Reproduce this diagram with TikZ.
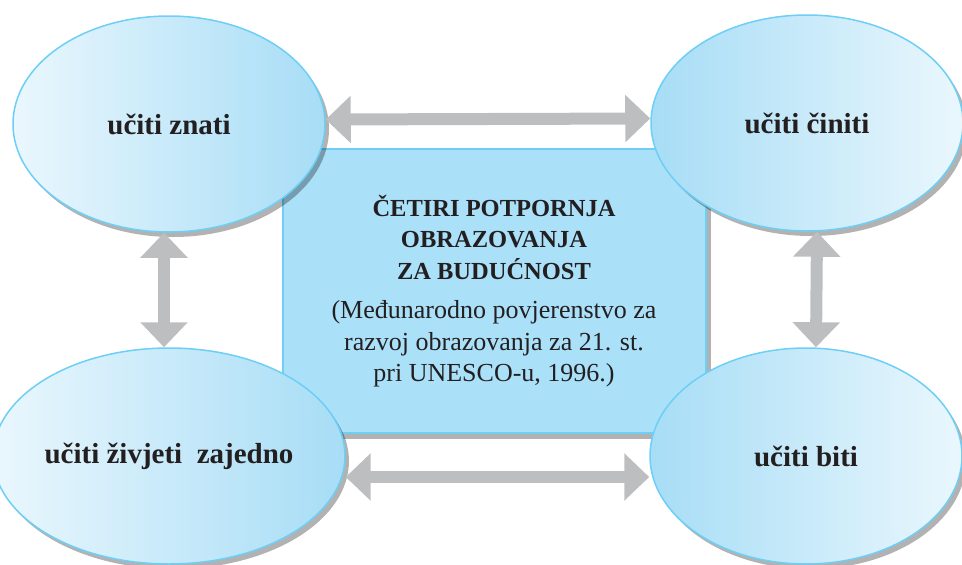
\documentclass[tikz,border=0pt]{standalone}
\usepackage{fontspec}
\setmainfont{Liberation Serif}
\usetikzlibrary{shapes.geometric}
\usetikzlibrary{shadows}
\usetikzlibrary{arrows.meta}
\definecolor{ringblue}{HTML}{6DCFF6}
\definecolor{paleblue}{HTML}{EAF7FD}
\definecolor{skyblue}{HTML}{A7DDF6}
\definecolor{boxblue}{HTML}{ABE0F9}
\definecolor{arrowgray}{HTML}{BCBEC0}
\definecolor{inkblack}{HTML}{231F20}
\newcommand{\notefont}{\fontsize{26}{30.5}\selectfont}
\tikzset{
  pillar/.style={
    ellipse, draw=ringblue, line width=1.5pt,
    minimum width=312pt, minimum height=216pt, inner sep=0pt,
    text=inkblack, font=\fontsize{29}{34}\selectfont\bfseries,
    drop shadow={shadow xshift=4pt, shadow yshift=-5pt, fill=black, opacity=0.3},
  },
  pillar left/.style={pillar, left color=paleblue, right color=skyblue},
  pillar right/.style={pillar, left color=skyblue, right color=paleblue},
  centre box/.style={
    rectangle, draw=ringblue, line width=2pt, fill=boxblue,
    minimum width=423pt, minimum height=284pt, inner sep=0pt,
    text=inkblack, align=center, font=\fontsize{24.5}{31.5}\selectfont,
    drop shadow={shadow xshift=5pt, shadow yshift=-6pt, fill=black, opacity=0.3},
  },
  both way/.style={
    draw=arrowgray, line width=12pt,
    {Triangle[width=46pt,length=25pt]}-{Triangle[width=46pt,length=25pt]},
  },
}
\begin{document}
\begin{tikzpicture}[x=1pt, y=-1pt]
  \useasboundingbox (0,0) rectangle (962,565);

  % Define nodes
  \node[centre box] (pillars) at (494,291) {%
    \textbf{ČETIRI POTPORNJA}\\
    \textbf{OBRAZOVANJA}\\
    \textbf{ZA BUDUĆNOST}\\[8pt]
    {\notefont (Međunarodno povjerenstvo za}\\
    {\notefont razvoj obrazovanja za 21. st.}\\
    {\notefont pri UNESCO-u, 1996.)}};

  \node[pillar left] (know) at (169,124) {učiti znati};
  \node[pillar right] (do) at (807,123) {učiti činiti};
  \node[pillar left] (together) at (169,456) {učiti živjeti~ zajedno};
  \node[pillar right] (be) at (806,456) {učiti biti};

  % Connect nodes
  \draw[both way] ([yshift=4.5pt]know.east) -- ([yshift=4.5pt]do.west);
  \draw[both way] ([yshift=-21pt]together.east) -- ([yshift=-21pt]be.west);
  \draw[both way] ([xshift=-5pt]know.south) -- ([xshift=-5pt]together.north);
  \draw[both way] ([xshift=10pt]do.south) -- ([xshift=10pt]be.north);

\end{tikzpicture}
\end{document}
